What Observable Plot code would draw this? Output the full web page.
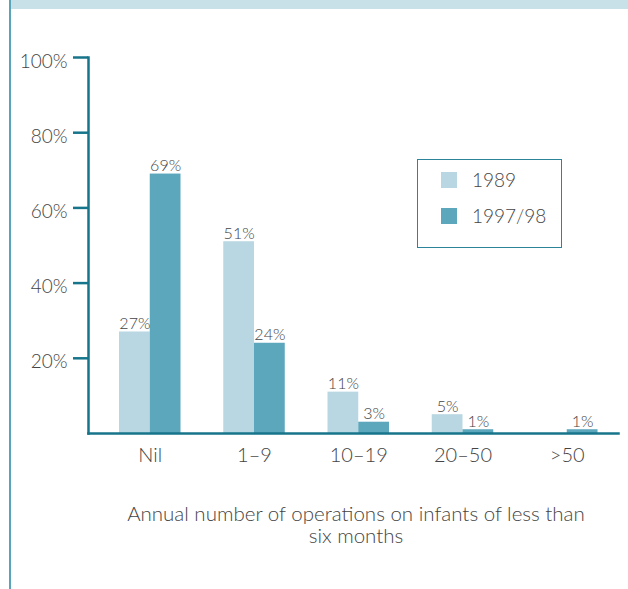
<!DOCTYPE html>
<html>
<head>
<meta charset="utf-8">
<script src="https://cdn.jsdelivr.net/npm/d3@7"></script>
<script src="https://cdn.jsdelivr.net/npm/@observablehq/plot@0.6"></script>
<style>
  html, body { margin: 0; padding: 0; background: #fff; }
  #wrap { position: relative; width: 628px; height: 589px; overflow: hidden; font-family: "Lato", "Open Sans", sans-serif; font-weight: 300; color: #444; }
  #topband { position: absolute; left: 10px; top: 0; width: 618px; height: 9px; background: #c8e1e8; }
  #leftline { position: absolute; left: 9px; top: 0; width: 2px; height: 589px; background: #5aa4b9; }
  #chart { position: absolute; left: 0; top: 0; }
  #legend { position: absolute; left: 417px; top: 159px; width: 145px; height: 89px; box-sizing: border-box; border: 1.5px solid #2b8499; background: #fff; }
  .sw { position: absolute; left: 23px; width: 16px; height: 16px; }
  .lt { position: absolute; left: 54px; font-size: 19px; line-height: 19px; color: #444; }
  #caption { position: absolute; left: 106px; width: 500px; top: 502px; text-align: center; font-size: 20.5px; line-height: 22px; color: #444; }
</style>
</head>
<body>
<div id="wrap">
  <div id="topband"></div>
  <div id="leftline"></div>
  <div id="chart"></div>
  <div id="legend"></div>
  <div id="caption"></div>
</div>
<script>
const categories = ["Nil", "1–9", "10–19", "20–50", ">50"];
const series = ["1989", "1997/98"];
const values1989 = [27, 51, 11, 5, 0];
const values1997 = [69, 24, 3, 1, 1];
const yTicks = [20, 40, 60, 80, 100];

const colors = ["#b9d7e2", "#5ca7bc"];
const axisColor = "#17758b";
const textColor = "#444";

const rows = [];
categories.forEach((c, i) => {
  rows.push({cat: c, series: series[0], value: values1989[i]});
  rows.push({cat: c, series: series[1], value: values1997[i]});
});
const r89 = rows.filter(d => d.series === series[0]);
const r97 = rows.filter(d => d.series === series[1]);

const half = 30.75;

const chart = Plot.plot({
  width: 628,
  height: 480,
  marginLeft: 88,
  marginRight: 10,
  marginTop: 57,
  marginBottom: 47,
  style: {fontFamily: "Lato, 'Open Sans', sans-serif", fontWeight: 300, background: "transparent"},
  x: {type: "band", domain: categories, paddingInner: 0.41, paddingOuter: 0.247, align: 0.602, round: false, label: null},
  y: {domain: [0, 100], label: null},
  color: {domain: series, range: colors},
  marks: [
    Plot.barY(r89, {x: "cat", y: "value", fill: "series", insetRight: half, insetLeft: 0}),
    Plot.barY(r97, {x: "cat", y: "value", fill: "series", insetLeft: half, insetRight: 0}),
    Plot.text(r89.filter(d => d.value > 0), {x: "cat", y: "value", text: d => d.value + "%", dx: -half / 2, dy: -3, lineAnchor: "bottom", fontSize: 16, fill: textColor}),
    Plot.text(r97.filter(d => d.value > 0), {x: "cat", y: "value", text: d => d.value + "%", dx: half / 2, dy: -3, lineAnchor: "bottom", fontSize: 16, fill: textColor}),
    Plot.axisY(yTicks, {tickSize: 15, tickFormat: () => "", stroke: axisColor, strokeWidth: 2.5, label: null}),
    Plot.axisY(yTicks, {tickSize: 0, tickPadding: 21, dy: 4, tickFormat: d => d + "%", fill: textColor, fontSize: 19, label: null}),
    Plot.axisX({tickSize: 0, tickPadding: 14, fill: textColor, fontSize: 20, label: null}),
    Plot.frame({anchor: "left", stroke: axisColor, strokeWidth: 2.5}),
    Plot.frame({anchor: "bottom", stroke: axisColor, strokeWidth: 2.5})
  ]
});
document.getElementById("chart").appendChild(chart);

const legend = document.getElementById("legend");
series.forEach((s, i) => {
  const sw = document.createElement("div");
  sw.className = "sw";
  sw.style.top = (i === 0 ? 12 : 48) + "px";
  sw.style.background = colors[i];
  legend.appendChild(sw);
  const t = document.createElement("div");
  t.className = "lt";
  t.style.top = (i === 0 ? 10 : 46) + "px";
  t.textContent = s;
  legend.appendChild(t);
});

const cap = document.getElementById("caption");
cap.innerHTML = "Annual number of operations on infants of less than<br>six months";
</script>
</body>
</html>
